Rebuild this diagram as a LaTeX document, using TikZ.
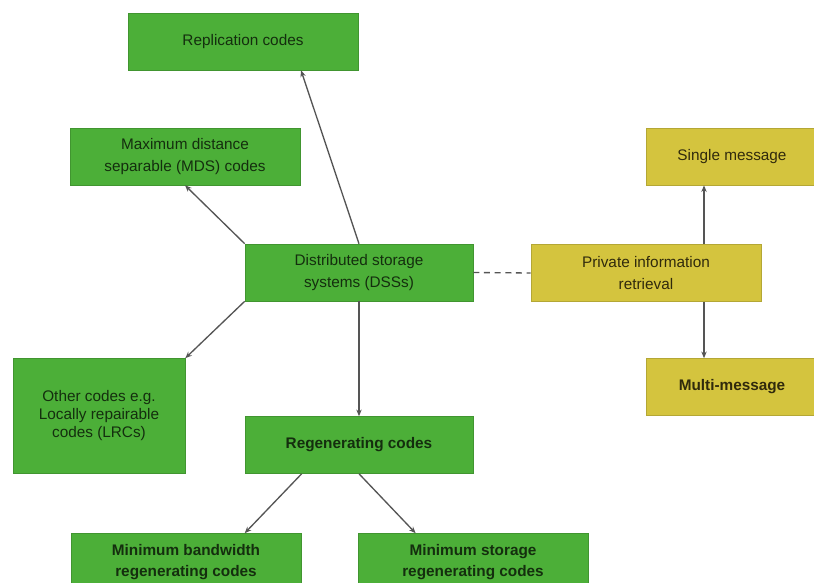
\documentclass[tikz,border=0pt]{standalone}
\usepackage{fontspec}
\setmainfont{Liberation Sans}
\usepackage{tikz}
\usetikzlibrary{arrows.meta}

\definecolor{boxgreen}{RGB}{76,175,56}
\definecolor{boxyellow}{RGB}{212,196,62}
\definecolor{txtgreen}{RGB}{20,46,14}
\definecolor{txtyellow}{RGB}{48,42,12}
\definecolor{linegray}{RGB}{85,85,85}

\begin{document}
\begin{tikzpicture}[x=0.75pt, y=-0.75pt,
    gbox/.style={fill=boxgreen, draw=boxgreen!85!black, line width=0.4pt, text=txtgreen,
        minimum width=172.5pt, minimum height=42.75pt, align=center, inner sep=2pt,
        font=\fontsize{11.5}{16}\selectfont},
    ybox/.style={gbox, fill=boxyellow, draw=boxyellow!85!black, text=txtyellow},
    arr/.style={draw=linegray, line width=1pt, -{Stealth[length=5pt, width=4pt]}}]
    \useasboundingbox (0,0) rectangle (814,582);
    \clip (0,0) rectangle (814,582);

        \node[gbox] (repl) at (243,41.5) {Replication codes};
        \node[gbox] (mds) at (185,156.5) {Maximum distance\\separable (MDS) codes};
        \node[gbox, minimum width=171pt] (dss) at (359,272.5) {Distributed storage\\systems (DSSs)};
        \node[gbox, minimum width=129pt, minimum height=86.25pt,
              font=\fontsize{11.5}{13.5}\selectfont] (other) at (99,416) {Other codes e.g.\\Locally repairable\\codes (LRCs)};
        \node[gbox, minimum width=171pt, font=\fontsize{11.5}{16}\selectfont\bfseries] (regen) at (359,445) {Regenerating codes};
        \node[gbox, font=\fontsize{11.5}{16}\selectfont\bfseries] (mbr) at (186,562) {Minimum bandwidth\\regenerating codes};
        \node[gbox, font=\fontsize{11.5}{16}\selectfont\bfseries] (msr) at (473,562) {Minimum storage\\regenerating codes};

        \node[ybox] (pir) at (646,273) {Private information\\retrieval};
        \node[ybox, minimum width=128pt] (single) at (732,156.5) {Single message};
        \node[ybox, minimum width=128pt, font=\fontsize{11.5}{16}\selectfont\bfseries] (multi) at (732,387) {Multi-message};

        % storage side
        \draw[arr] (dss.north) -- ([xshift=43.5pt]repl.south);
        \draw[arr] (dss.north west) -- (mds.south);
        \draw[arr] (dss.south west) -- (other.north east);
        \draw[arr] (dss.south) -- (regen.north);
        \draw[arr] ([xshift=-43pt]regen.south) -- ([xshift=44pt]mbr.north);
        \draw[arr] (regen.south) -- ([xshift=-43pt]msr.north);

        % PIR side
        \draw[draw=linegray, line width=1pt, dash pattern=on 4.5pt off 3.5pt] (dss.east) -- (pir.west);
        \draw[arr] ([xshift=43.5pt]pir.north) -- ([xshift=43.5pt]pir.north |- single.south);
        \draw[arr] ([xshift=43.5pt]pir.south) -- ([xshift=43.5pt]pir.south |- multi.north);
    \end{tikzpicture}
\end{document}
